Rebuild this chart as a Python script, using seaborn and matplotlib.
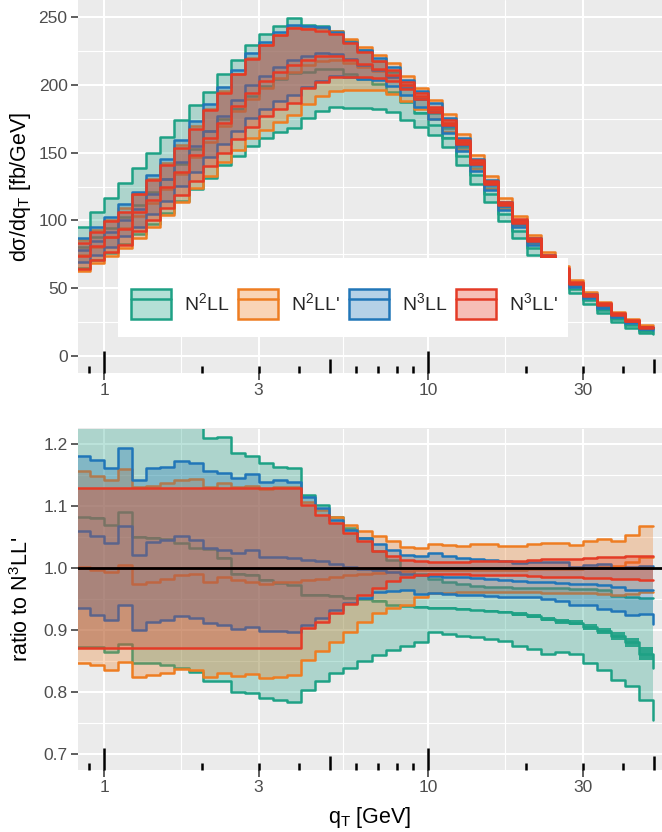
import numpy as np
import matplotlib
matplotlib.use("Agg")
import matplotlib.pyplot as plt
import matplotlib.transforms as mtransforms
from matplotlib.patches import Patch, Rectangle
from matplotlib.lines import Line2D
from matplotlib.ticker import FixedLocator, FixedFormatter
import seaborn as sns

# ---------------- data ----------------
qt_edges = [0.8186, 0.9048, 1.0, 1.1052, 1.2216, 1.3501, 1.4922, 1.6493, 1.8229, 2.0147,
            2.2268, 2.4611, 2.7201, 3.0065, 3.3229, 3.6727, 4.0593, 4.4865, 4.9588, 5.4807,
            6.0576, 6.6952, 7.3999, 8.1788, 9.0397, 10.0, 11.052, 12.216, 13.501, 14.922,
            16.493, 18.229, 20.147, 22.268, 24.611, 27.201, 30.065, 33.229, 36.727, 40.593,
            44.865, 49.588]

# N3LL' central prediction dsigma/dqT [fb/GeV] (last entry = value at final edge)
dsig_ref = [74.0, 81.0, 88.0, 94.0, 106.0, 115.0, 125.0, 136.0, 148.0, 161.0,
            172.0, 184.0, 194.0, 203.0, 209.5, 214.5, 218.5, 221.0, 221.5, 218.5,
            215.0, 211.5, 207.0, 199.5, 191.5, 182.0, 172.0, 158.0, 143.0, 128.0,
            112.5, 99.5, 86.0, 73.5, 63.7, 54.0, 45.3, 38.2, 31.0, 26.0, 21.2, 21.2]

# ratios to N3LL' central
n2ll_hi = [1.289, 1.314, 1.322, 1.354, 1.306, 1.300, 1.294, 1.279, 1.251, 1.209,
           1.211, 1.185, 1.181, 1.169, 1.163, 1.161, 1.118, 1.102, 1.083, 1.065,
           1.048, 1.028, 1.013, 1.000, 0.990, 0.983, 0.978, 0.974, 0.971, 0.970,
           0.969, 0.968, 0.968, 0.967, 0.967, 0.966, 0.966, 0.965, 0.955, 0.953, 0.951, 0.951]
n2ll_c = [1.082, 1.081, 1.069, 1.090, 1.050, 1.049, 1.046, 1.040, 1.032, 1.030,
          1.016, 0.991, 0.989, 0.981, 0.976, 0.972, 0.957, 0.957, 0.955, 0.952,
          0.950, 0.947, 0.940, 0.938, 0.937, 0.936, 0.936, 0.934, 0.932, 0.931,
          0.929, 0.926, 0.923, 0.918, 0.914, 0.912, 0.905, 0.898, 0.890, 0.880, 0.862, 0.838]
n2ll_stat = [0.001, 0.001, 0.001, 0.001, 0.001, 0.001, 0.001, 0.001, 0.001, 0.001,
             0.001, 0.001, 0.001, 0.001, 0.001, 0.001, 0.001, 0.001, 0.001, 0.001,
             0.001, 0.001, 0.001, 0.001, 0.001, 0.001, 0.001, 0.001, 0.001, 0.002,
             0.002, 0.003, 0.003, 0.003, 0.004, 0.004, 0.005, 0.005, 0.006, 0.007, 0.010, 0.010]
n2ll_lo = [0.873, 0.872, 0.865, 0.877, 0.846, 0.846, 0.844, 0.838, 0.833, 0.817,
           0.818, 0.800, 0.799, 0.791, 0.787, 0.784, 0.803, 0.818, 0.830, 0.838,
           0.850, 0.860, 0.868, 0.874, 0.880, 0.897, 0.894, 0.891, 0.889, 0.885,
           0.882, 0.874, 0.870, 0.862, 0.864, 0.862, 0.847, 0.835, 0.819, 0.809, 0.787, 0.755]

n2llp_hi = [1.156, 1.149, 1.142, 1.160, 1.130, 1.132, 1.137, 1.142, 1.144, 1.130,
            1.137, 1.131, 1.133, 1.128, 1.130, 1.131, 1.107, 1.094, 1.083, 1.069,
            1.059, 1.051, 1.044, 1.034, 1.033, 1.038, 1.037, 1.036, 1.038, 1.038,
            1.036, 1.036, 1.039, 1.040, 1.041, 1.037, 1.044, 1.046, 1.044, 1.054, 1.067, 1.067]
n2llp_c = [1.002, 0.997, 0.994, 1.005, 0.975, 0.978, 0.983, 0.989, 0.991, 0.978,
           0.986, 0.981, 0.978, 0.975, 0.978, 0.978, 0.981, 0.983, 0.986, 0.989,
           0.990, 0.992, 0.994, 0.995, 0.996, 0.997, 0.997, 0.997, 0.997, 0.997,
           0.997, 0.997, 0.998, 0.998, 0.998, 0.999, 1.000, 1.002, 1.004, 1.010, 1.018, 1.018]
n2llp_lo = [0.846, 0.843, 0.835, 0.849, 0.824, 0.827, 0.831, 0.837, 0.835, 0.825,
            0.831, 0.826, 0.829, 0.822, 0.824, 0.827, 0.852, 0.866, 0.881, 0.897,
            0.913, 0.927, 0.935, 0.941, 0.953, 0.959, 0.960, 0.961, 0.962, 0.962,
            0.962, 0.962, 0.961, 0.960, 0.960, 0.959, 0.959, 0.958, 0.956, 0.958, 0.962, 0.962]

n3ll_hi = [1.181, 1.174, 1.162, 1.193, 1.142, 1.161, 1.163, 1.173, 1.169, 1.156,
           1.153, 1.145, 1.152, 1.139, 1.142, 1.139, 1.115, 1.097, 1.078, 1.061,
           1.048, 1.038, 1.029, 1.021, 1.019, 1.024, 1.019, 1.016, 1.015, 1.013,
           1.011, 1.008, 1.009, 1.009, 1.010, 1.002, 1.005, 1.006, 1.000, 1.002, 1.004, 1.004]
n3ll_c = [1.059, 1.051, 1.040, 1.067, 1.021, 1.042, 1.045, 1.051, 1.045, 1.032,
          1.029, 1.024, 1.029, 1.018, 1.018, 1.016, 1.013, 1.011, 1.006, 1.002,
          0.999, 0.996, 0.993, 0.990, 0.988, 0.987, 0.986, 0.985, 0.984, 0.983,
          0.981, 0.979, 0.978, 0.977, 0.976, 0.975, 0.974, 0.973, 0.970, 0.964, 0.965, 0.965]
n3ll_lo = [0.935, 0.924, 0.916, 0.940, 0.900, 0.913, 0.916, 0.923, 0.919, 0.911,
           0.908, 0.902, 0.905, 0.898, 0.899, 0.897, 0.908, 0.919, 0.932, 0.943,
           0.951, 0.961, 0.963, 0.964, 0.958, 0.960, 0.958, 0.957, 0.956, 0.955,
           0.954, 0.953, 0.953, 0.950, 0.946, 0.941, 0.940, 0.934, 0.930, 0.924, 0.926, 0.910]

n3llp_hi = [1.129, 1.129, 1.129, 1.129, 1.129, 1.129, 1.129, 1.129, 1.129, 1.129,
            1.129, 1.129, 1.129, 1.129, 1.129, 1.129, 1.102, 1.085, 1.072, 1.057,
            1.043, 1.028, 1.019, 1.013, 1.011, 1.010, 1.010, 1.010, 1.011, 1.011,
            1.012, 1.012, 1.013, 1.014, 1.015, 1.015, 1.016, 1.017, 1.018, 1.019, 1.020, 1.020]
n3llp_c = [1.0, 1.0, 1.0, 1.0, 1.0, 1.0, 1.0, 1.0, 1.0, 1.0,
           1.0, 1.0, 1.0, 1.0, 1.0, 1.0, 1.0, 1.0, 1.0, 1.0,
           1.0, 1.0, 1.0, 1.0, 1.0, 1.0, 1.0, 1.0, 1.0, 1.0,
           1.0, 1.0, 1.0, 1.0, 1.0, 1.0, 1.0, 1.0, 1.0, 1.0, 1.0, 1.0]
n3llp_lo = [0.871, 0.871, 0.871, 0.871, 0.871, 0.871, 0.871, 0.871, 0.871, 0.871,
            0.871, 0.871, 0.871, 0.871, 0.871, 0.871, 0.903, 0.913, 0.928, 0.942,
            0.957, 0.968, 0.979, 0.986, 0.989, 0.990, 0.990, 0.990, 0.989, 0.989,
            0.988, 0.988, 0.987, 0.986, 0.986, 0.985, 0.984, 0.984, 0.983, 0.982, 0.981, 0.981]

order_labels = ["N$^2$LL", "N$^2$LL'", "N$^3$LL", "N$^3$LL'"]
order_colors = ["#1EA185", "#EE7D22", "#2176B8", "#E43B26"]

x_ticks = [1, 3, 10, 30]
x_ticklabels = ["1", "3", "10", "30"]
top_yticks = [0, 50, 100, 150, 200, 250]
ratio_yticks = [0.7, 0.8, 0.9, 1.0, 1.1, 1.2]
logtick_pos = [0.9, 1, 2, 3, 4, 5, 6, 7, 8, 9, 10, 20, 30, 40, 50]
logtick_kind = ["s", "l", "s", "s", "s", "m", "s", "s", "s", "s", "l", "s", "s", "s", "m"]

# ---------------- style ----------------
sns.set_theme(style="darkgrid", rc={
    "axes.facecolor": "#EBEBEB",
    "grid.color": "white",
    "axes.edgecolor": "#EBEBEB",
})
plt.rcParams["font.family"] = ["Liberation Sans", "DejaVu Sans"]
plt.rcParams["mathtext.fontset"] = "custom"
plt.rcParams["mathtext.rm"] = "Liberation Sans"
plt.rcParams["mathtext.it"] = "Liberation Sans:italic"
plt.rcParams["mathtext.bf"] = "Liberation Sans:bold"

W, H = 662, 832
fig = plt.figure(figsize=(W / 100, H / 100), dpi=100)
fig.patch.set_facecolor("white")


def px_axes(l, t, r, b):
    return fig.add_axes([l / W, 1 - b / H, (r - l) / W, (b - t) / H])


ax1 = px_axes(78, 0, 662, 373)
ax2 = px_axes(78, 428.5, 662, 770)

edges = np.asarray(qt_edges)
ref = np.asarray(dsig_ref)
series = [
    (order_colors[0], n2ll_lo, n2ll_c, n2ll_hi, n2ll_stat),
    (order_colors[1], n2llp_lo, n2llp_c, n2llp_hi, None),
    (order_colors[2], n3ll_lo, n3ll_c, n3ll_hi, None),
    (order_colors[3], n3llp_lo, n3llp_c, n3llp_hi, None),
]

LW = 1.8


def draw(ax, scale):
    for j, (col, lo, c, hi, st) in enumerate(series):
        lo_ = np.asarray(lo) * scale
        hi_ = np.asarray(hi) * scale
        c_ = np.asarray(c) * scale
        z = 1 + j
        ax.fill_between(edges, lo_, hi_, step="post", color=col, alpha=0.3,
                        lw=0, zorder=z)
        if st is not None:
            s_ = np.asarray(st) * scale
            ax.fill_between(edges, c_ - s_, c_ + s_, step="post", color=col,
                            alpha=0.9, lw=0, zorder=z + 0.4)
        for yv in (lo_, hi_, c_):
            sns.lineplot(x=edges, y=yv, drawstyle="steps-post", estimator=None,
                         sort=False, color=col, lw=LW, zorder=z + 0.5, ax=ax)


for ax in (ax1, ax2):
    ax.set_xscale("log")

draw(ax1, ref)
draw(ax2, 1.0)
ax2.axhline(1.0, color="black", lw=2.0, zorder=20)

for ax in (ax1, ax2):
    ax.set_xlim(0.8311, 52.76)
    ax.xaxis.set_major_locator(FixedLocator(x_ticks))
    ax.xaxis.set_major_formatter(FixedFormatter(x_ticklabels))
    ax.xaxis.set_minor_locator(FixedLocator([1.732, 5.477, 17.32]))
    ax.grid(which="major", color="white", lw=1.5)
    ax.grid(which="minor", color="white", lw=0.8)
    ax.tick_params(axis="both", which="major", length=5, width=1.1,
                   color="#333333", pad=2.5, labelsize=12.5,
                   labelcolor="#4D4D4D", bottom=True, left=True)
    ax.tick_params(which="minor", length=0, bottom=False, left=False)
    for sp in ax.spines.values():
        sp.set_visible(False)
    ax.set_xlabel("")
    ax.set_ylabel("")

ax1.set_ylim(-12.5, 262.5)
ax1.set_yticks(top_yticks)
ax1.set_yticklabels([str(v) for v in top_yticks])
ax1.yaxis.set_minor_locator(FixedLocator([25, 75, 125, 175, 225]))

ax2.set_ylim(0.6742, 1.225)
ax2.set_yticks(ratio_yticks)
ax2.set_yticklabels([f"{v:.1f}" for v in ratio_yticks])
ax2.yaxis.set_minor_locator(FixedLocator([0.75, 0.85, 0.95, 1.05, 1.15]))

# log tick annotations (inside the panels, from the bottom)
tick_len = {"s": 7, "m": 14, "l": 22}
for ax, hpx in ((ax1, 373.0), (ax2, 341.5)):
    tr = mtransforms.blended_transform_factory(ax.transData, ax.transAxes)
    for xv, kd in zip(logtick_pos, logtick_kind):
        ax.plot([xv, xv], [0, tick_len[kd] / hpx], transform=tr, color="black",
                lw=1.8, solid_capstyle="butt", zorder=30, clip_on=False)

ax1.set_ylabel("d\u03c3/dq$_\\mathrm{T}$ [fb/GeV]", fontsize=15.5, color="black")
ax2.set_ylabel("ratio to N$^3$LL'", fontsize=15.5, color="black")
ax2.set_xlabel("q$_\\mathrm{T}$ [GeV]", fontsize=15.5, color="black")
ax1.yaxis.set_label_coords(-0.077, 0.5)
ax2.yaxis.set_label_coords(-0.077, 0.5)
ax2.xaxis.set_label_coords(0.5, -0.103)

# legend box
fig.add_artist(Rectangle((118 / W, 1 - 337 / H), 450 / W, 79 / H,
                         transform=fig.transFigure, facecolor="white",
                         edgecolor="none", zorder=5))
handles = []
for col in order_colors:
    p = Patch(facecolor=matplotlib.colors.to_rgba(col, 0.33), edgecolor=col, lw=LW)
    l = Line2D([], [], color=col, lw=LW)
    handles.append((p, l))
LFS = 14
fpx = LFS * 100 / 72.0
leg = fig.legend(handles, order_labels, loc="center left",
                 bbox_to_anchor=(131 / W, 1 - 304 / H), ncol=4, frameon=False,
                 fontsize=LFS, handlelength=40 / fpx, handleheight=40 / fpx,
                 handletextpad=13 / fpx, columnspacing=9 / fpx, borderpad=0,
                 borderaxespad=0)
leg.set_zorder(6)

fig.savefig("out.png", dpi=100)
